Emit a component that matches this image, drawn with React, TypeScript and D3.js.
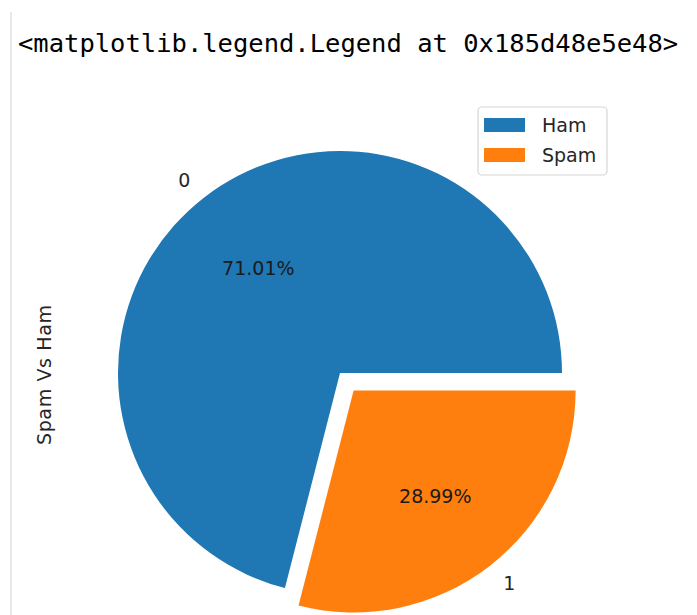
import React from "react";
import * as d3 from "d3";

const categories = ["0", "1"];
const legendLabels = ["Ham", "Spam"];
const values = [71.01, 28.99];
const explode = [0, 0.1];
const colors = ["#1f77b4", "#ff7f0e"];
const titleText = "<matplotlib.legend.Legend at 0x185d48e5e48>";
const yLabel = "Spam Vs Ham";

const W = 697;
const H = 615;
const cx = 340;
const cy = 373;
const R = 222;
const FS = 19;

export default function App() {
  const pie = d3
    .pie<number>()
    .sort(null)
    .value((d) => d)
    .startAngle(Math.PI / 2)
    .endAngle(Math.PI / 2 - 2 * Math.PI);
  const arcs = pie(values);
  const arcGen = d3.arc<d3.PieArcDatum<number>>().innerRadius(0).outerRadius(R);

  return (
    <svg
      width={W}
      height={H}
      style={{ position: "absolute", left: 0, top: 0, background: "#fff" }}
      fontFamily="DejaVu Sans"
    >
      <line x1={11} x2={11} y1={12} y2={H} stroke="#e0e0e0" strokeWidth={1.5} />
      <text
        x={18}
        y={52}
        fontFamily="DejaVu Sans Mono"
        fontSize={25.5}
        fill="#000"
      >
        {titleText}
      </text>
      <text
        transform={`translate(51,375) rotate(-90)`}
        textAnchor="middle"
        fontSize={FS}
        fill="#262626"
        textLength={140}
        lengthAdjust="spacing"
      >
        {yLabel}
      </text>
      {arcs.map((a, i) => {
        const midD3 = (a.startAngle + a.endAngle) / 2;
        const ux = Math.sin(midD3);
        const uy = -Math.cos(midD3);
        const ox = cx + explode[i] * R * ux;
        const oy = cy + explode[i] * R * uy;
        const lx = ox + 1.1 * R * ux;
        const ly = oy + 1.1 * R * uy;
        const px = ox + 0.6 * R * ux;
        const py = oy + 0.6 * R * uy;
        const pct = (values[i] / d3.sum(values)) * 100;
        return (
          <g key={i}>
            <path d={arcGen(a) || ""} transform={`translate(${ox},${oy})`} fill={colors[i]} />
            <text
              x={lx}
              y={ly}
              textAnchor={ux > 0 ? "start" : "end"}
              dominantBaseline="central"
              fontSize={FS}
              fill="#262626"
            >
              {categories[i]}
            </text>
            <text
              x={px}
              y={py}
              textAnchor="middle"
              dominantBaseline="central"
              fontSize={FS}
              fill="#1a1a1a"
            >
              {pct.toFixed(2) + "%"}
            </text>
          </g>
        );
      })}
      <rect
        x={478}
        y={107}
        width={129}
        height={68}
        rx={4}
        fill="#fff"
        fillOpacity={0.8}
        stroke="#d6d6d6"
        strokeWidth={1.2}
      />
      {legendLabels.map((l, i) => (
        <g key={l}>
          <rect x={484} y={118 + i * 30} width={41} height={14} fill={colors[i]} />
          <text x={542} y={125 + i * 30} dominantBaseline="central" fontSize={FS} fill="#262626">
            {l}
          </text>
        </g>
      ))}
    </svg>
  );
}
